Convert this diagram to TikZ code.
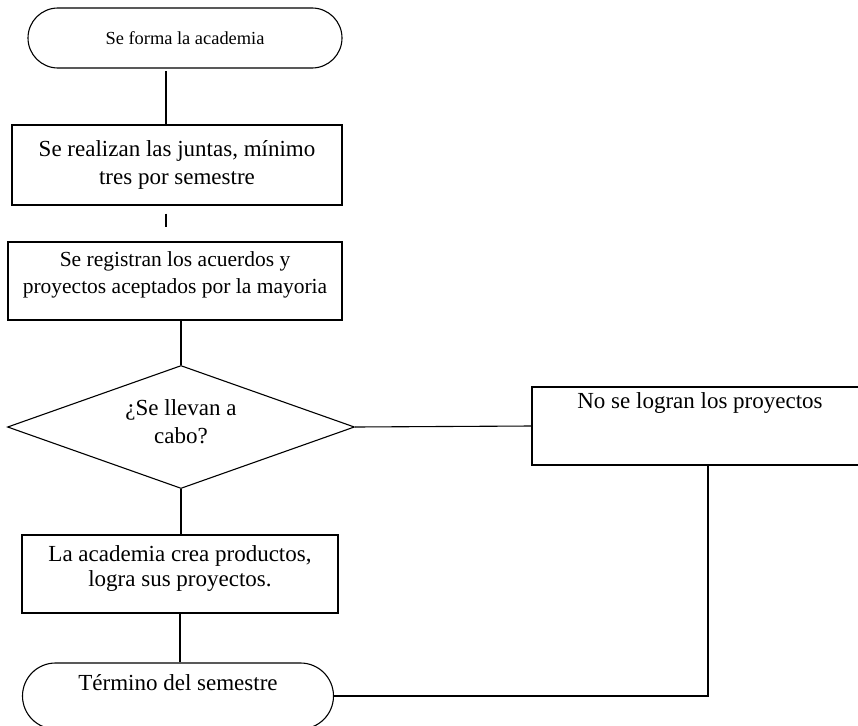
\documentclass[tikz,border=0pt]{standalone}
\usepackage{fontspec}
\setmainfont{Liberation Serif}
\usetikzlibrary{positioning, shapes.geometric, shapes.misc}

\tikzset{
  flowbox/.style={draw, line width=1.1pt, rectangle, inner sep=0pt},
  termbox/.style={draw, line width=1.1pt, rounded rectangle, inner sep=0pt},
  decbox/.style={draw, line width=1.1pt, diamond, inner sep=0pt},
  flowline/.style={line width=1.1pt},
  bigtxt/.style={align=center, inner sep=0pt, font=\fontsize{23}{28}\selectfont},
}

\begin{document}
\begin{tikzpicture}[x=1pt, y=-1pt]
\useasboundingbox (0,0) rectangle (858,725);

% terminal de inicio
\node[termbox, minimum width=314pt, minimum height=60pt, font=\fontsize{18.4}{22}\selectfont] (start) at (185,38) {Se forma la academia};

% cajas de proceso
\node[flowbox, minimum width=330pt, minimum height=80pt] (juntas) at (177,165) {};
\node[bigtxt] (juntastxt) at (juntas.center) {Se realizan las juntas, mínimo\\tres por semestre};

\node[flowbox, minimum width=334pt, minimum height=78pt] (acuerdos) at (175,281) {};
\node[bigtxt, font=\fontsize{21.5}{27}\selectfont] (acuerdostxt) at ([yshift=6pt]acuerdos.center) {Se registran los acuerdos y\\proyectos aceptados por la mayoria};

% decision
\node[decbox, minimum width=347pt, minimum height=123pt] (dec) at (181,427) {};
\node[bigtxt] (dectxt) at ([yshift=5pt]dec.center) {¿Se llevan a\\cabo?};

\node[flowbox, minimum width=336pt, minimum height=78pt] (fail) at (700,426) {};
\node[bigtxt] (failtxt) at ([yshift=23pt]fail.center) {No se logran los proyectos};

\node[flowbox, minimum width=316pt, minimum height=78pt] (logra) at (180,574) {};
\node[bigtxt, font=\fontsize{23}{25}\selectfont] (logratxt) at ([yshift=6pt]logra.center) {La academia crea productos,\\logra sus proyectos.};

% terminal final
\node[termbox, minimum width=311pt, minimum height=66pt] (fin) at (178,696) {};
\node[bigtxt] (fintxt) at ([yshift=13pt]fin.center) {Término del semestre};

% conectores
\draw[flowline] ([xshift=-11pt]juntas.north) -- ([xshift=-11pt,yshift=-2pt]juntas.north |- start.south);
\draw[flowline] ([xshift=-11pt,yshift=-8pt]juntas.south) -- ([xshift=-9pt,yshift=14pt]acuerdos.north);
\draw[flowline] (dec.north) -- (dec.north |- acuerdos.south);
\draw[flowline] (dec.east) -- (fail.west);
\draw[flowline] (dec.south) -- (dec.south |- logra.north);
\draw[flowline] (logra.south) -- (logra.south |- fin.north);
\draw[flowline] ([xshift=8pt]fail.south) |- (fin.east);

\end{tikzpicture}
\end{document}
